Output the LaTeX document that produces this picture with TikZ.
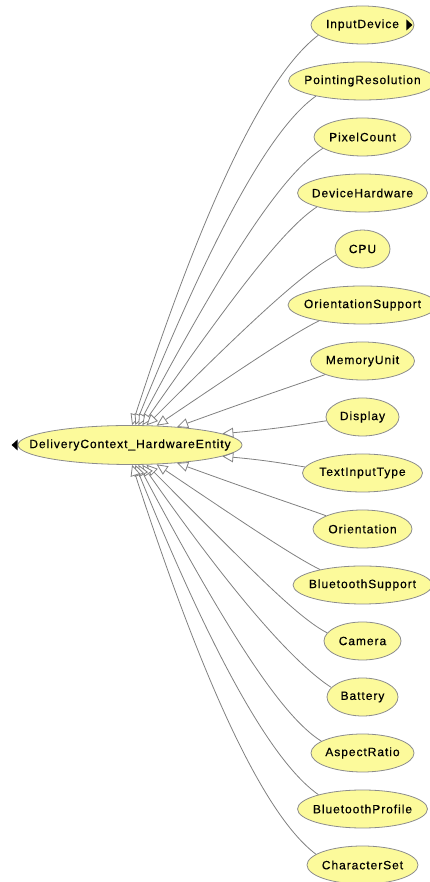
\documentclass[tikz,border=0pt]{standalone}
\usepackage{fontspec}
\usetikzlibrary{arrows.meta,shapes.geometric}
\newfontfamily\lblfam[LetterSpace=8,FakeBold=0.5]{Liberation Sans}
\newcommand\lblfont{\lblfam\fontsize{12}{14}\selectfont}
\definecolor{clsfill}{RGB}{252,250,155}
\definecolor{clsdraw}{RGB}{140,140,140}
\definecolor{isagray}{RGB}{128,128,128}
\tikzset{
  % size comes from minimum width/height only
  cls/.style={ellipse, draw=clsdraw, fill=clsfill, line width=.8pt, inner xsep=-80pt, inner ysep=0pt,
    minimum height=38pt, minimum width=#1, font=\lblfont},
  isa/.style={draw=isagray, line width=.8pt, out looseness=.35, in looseness=1.5,
    -{Triangle[length=11pt, width=10pt, fill=white, line width=.8pt]}},
}
\begin{document}
\begin{tikzpicture}[x=1pt,y=1pt]
  \useasboundingbox (0,0) rectangle (430,882);
  \clip (0,0) rectangle (430,882);
  \node[cls=224pt, minimum height=39pt] (hw) at (130,437) {DeliveryContext\_HardwareEntity};
  \node[cls=103pt] (indev) at (362.5,857) {InputDevice};
  \node[cls=148pt] (pointres) at (362.5,801) {PointingResolution};
  \node[cls=97pt] (pixcnt) at (362.5,745) {PixelCount};
  \node[cls=130pt] (devhw) at (362.5,689) {DeviceHardware};
  \node[cls=55pt] (cpu) at (362.5,633) {CPU};
  \node[cls=149pt] (orisup) at (362.5,577) {OrientationSupport};
  \node[cls=104pt] (memunit) at (362.5,521) {MemoryUnit};
  \node[cls=73pt] (display) at (362.5,465) {Display};
  \node[cls=120pt] (txtin) at (362.5,409) {TextInputType};
  \node[cls=99pt] (orient) at (362.5,353) {Orientation};
  \node[cls=139pt] (btsup) at (362.5,297) {BluetoothSupport};
  \node[cls=77pt] (camera) at (362.5,241) {Camera};
  \node[cls=71pt] (battery) at (362.5,185) {Battery};
  \node[cls=103pt] (aspect) at (362.5,129) {AspectRatio};
  \node[cls=130pt] (btprof) at (362.5,73) {BluetoothProfile};
  \node[cls=111pt] (charset) at (362.5,17) {CharacterSet};
  % expand markers
  \fill ([xshift=-6pt]hw.west) -- ++(6,5.5) -- ++(0,-11) -- cycle;
  \fill ([xshift=-2pt]indev.east) -- ++(-6,5.5) -- ++(0,-11) -- cycle;
  % subclass links, upper half
  \draw[isa] (indev.193) to[out=217, in=72] (hw.84);
  \draw[isa] (pointres.198) to[out=215, in=68] (hw.75);
  \draw[isa] (pixcnt.196) to[out=212, in=62] (hw.67);
  \draw[isa] (devhw.197) to[out=213, in=55] (hw.58);
  \draw[isa] (cpu.193) to[out=207, in=45] (hw.50);
  \draw[isa] (orisup.200) to[out=206, in=34] (hw.36);
  \draw[isa] (memunit.200) to[out=200, in=20] (hw.21);
  \draw[isa] (display.186) to[out=188, in=5] (hw.7);
  % lower half
  \draw[isa] (txtin.174) to[out=172, in=-5] (hw.-7);
  \draw[isa] (orient.160) to[out=160, in=-20] (hw.-21);
  \draw[isa] (btsup.160) to[out=154, in=-34] (hw.-36);
  \draw[isa] (camera.167) to[out=153, in=-45] (hw.-50);
  \draw[isa] (battery.163) to[out=147, in=-55] (hw.-58);
  \draw[isa] (aspect.164) to[out=148, in=-62] (hw.-67);
  \draw[isa] (btprof.162) to[out=145, in=-68] (hw.-75);
  \draw[isa] (charset.167) to[out=143, in=-72] (hw.-84);
\end{tikzpicture}
\end{document}
